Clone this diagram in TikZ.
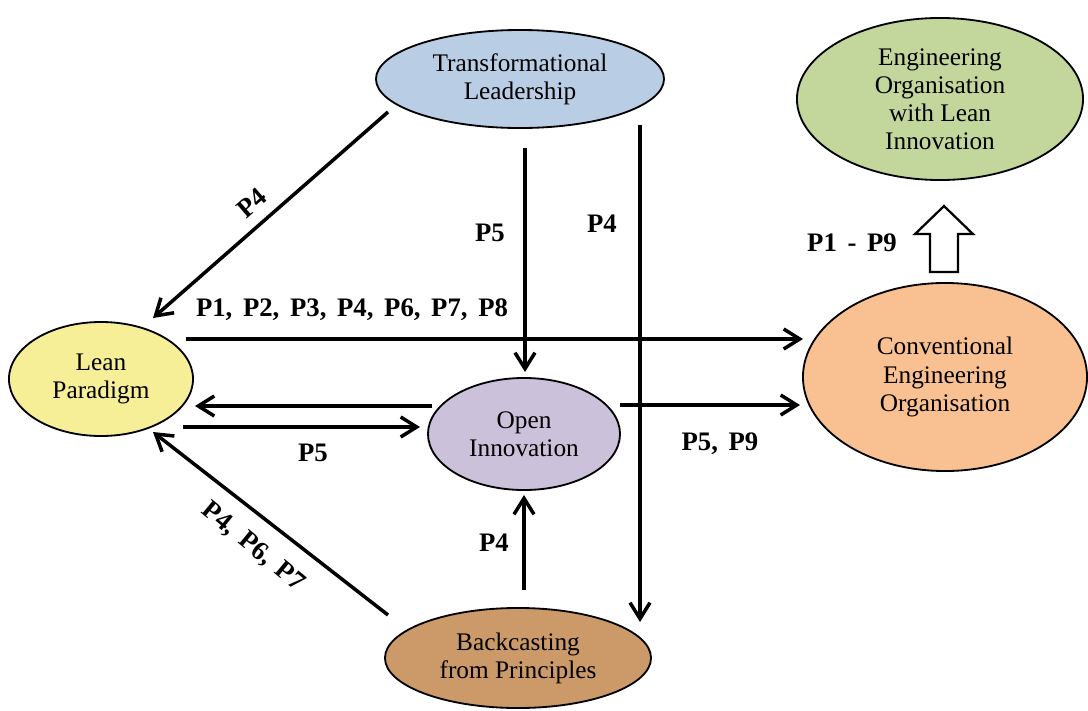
\documentclass[tikz,border=0pt]{standalone}
\usepackage{fontspec}
\setmainfont{Liberation Serif}
\usepackage{tikz}
\usetikzlibrary{arrows.meta,shapes.geometric,calc}

\definecolor{tlblue}{HTML}{B9CDE5}
\definecolor{enggreen}{HTML}{C3D69B}
\definecolor{leanyellow}{HTML}{F7EF97}
\definecolor{openlilac}{HTML}{CCC1DA}
\definecolor{convorange}{HTML}{F9C191}
\definecolor{backbrown}{HTML}{CC9A68}
\newcommand{\lblfont}{\fontsize{19}{22}\selectfont\bfseries\spaceskip 0.4em\relax}

\begin{document}
\begin{tikzpicture}[x=0.025cm, y=-0.025cm,
	every node/.style={font=\fontsize{18}{20}\selectfont},
	>={Straight Barb[length=4mm, width=5mm]},
	ell/.style={ellipse, draw, line width=1.3pt, inner sep=0pt, align=center},
	conn/.style={->, line width=2.5pt},
	lbl/.style={font=\lblfont}]
	\useasboundingbox (0,0) rectangle (1088,711);

	\node[ell, fill=tlblue, minimum width=7.2cm, minimum height=2.45cm] (tl) at (520,79) {Transformational\\Leadership};
	\node[ell, fill=enggreen, minimum width=7.15cm, minimum height=4.05cm] (eng) at (940,99) {Engineering\\Organisation\\with Lean\\Innovation};
	\node[ell, fill=leanyellow, minimum width=4.6cm, minimum height=2.85cm] (lean) at (101,379) {Lean\\Paradigm};
	\node[ell, fill=openlilac, minimum width=4.8cm, minimum height=2.8cm] (open) at (524,434) {Open\\Innovation};
	\node[ell, fill=convorange, minimum width=7.1cm, minimum height=4.7cm] (conv) at (945,377) {Conventional\\Engineering\\Organisation};
	\node[ell, fill=backbrown, minimum width=6.65cm, minimum height=2.5cm] (back) at (518,658) {Backcasting\\from Principles};

	\draw[conn] ($(tl)+(-132,33)$) -- ($(lean)+(52,-61)$);
	\draw[conn] ($(tl)+(5,69)$) -- ($(open)+(1,-62)$);
	\draw[conn] ($(tl)+(120,46)$) -- ($(back)+(122,-36)$);
	\draw[conn] ($(lean)+(85,-40)$) -- ($(conv)+(-142,-38)$);
	\draw[conn] ($(open)+(-92,-28)$) -- ($(lean)+(94,27)$);
	\draw[conn] ($(lean)+(82,48)$) -- ($(open)+(-104,-7)$);
	\draw[conn] ($(open)+(96,-29)$) -- ($(conv)+(-145,28)$);
	\draw[conn] ($(back)+(6,-68)$) -- ($(open)+(0,61)$);
	\draw[conn] ($(back)+(-130,-43)$) -- ($(lean)+(52,53)$);

	\coordinate (up) at ($(conv.north)+(-1,-10)$);
	\draw[line width=1.6pt, fill=white] (up) ++(-14,0) -- ++(0,-38) -- ++(-15,0) -- ++(29,-28)
		-- ++(29,28) -- ++(-15,0) -- ++(0,38) -- cycle;

	\node[lbl, rotate=41] (l1) at (252,203) {P4};
	\node[lbl] (l2) at (490,233) {P5};
	\node[lbl] (l3) at (602,224) {P4};
	\node[lbl] (l4) at (352,310) {P1, P2, P3, P4, P6, P7, P8};
	\node[lbl] (l5) at (313,453) {P5};
	\node[lbl] (l6) at (720,444) {P5, P9};
	\node[lbl] (l7) at (494,543) {P4};
	\node[lbl, rotate=-39.5] (l8) at (253,547) {P4, P6, P7};
	\node[lbl] (l9) at (852,243) {P1 - P9};
\end{tikzpicture}
\end{document}
